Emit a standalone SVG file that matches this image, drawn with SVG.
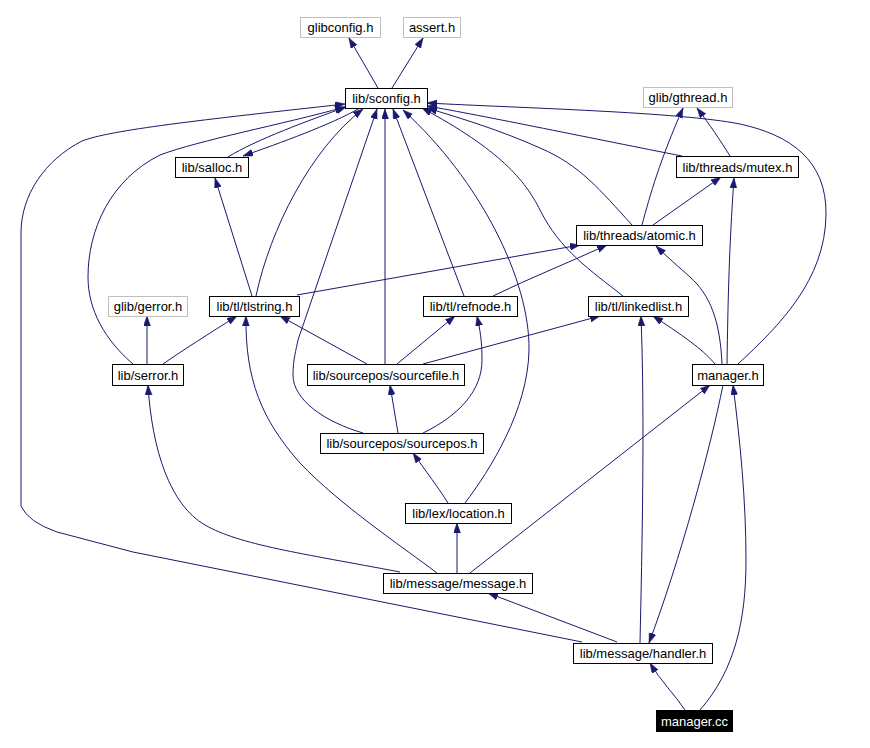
<svg xmlns="http://www.w3.org/2000/svg" width="870" height="748" viewBox="0 0 870 748">
<style>
.n rect{fill:#fff;stroke:#000;stroke-width:1}
.x rect{fill:#fff;stroke:#bfbfbf;stroke-width:1}
.n text,.x text{font-family:"Liberation Sans",Arial,sans-serif;font-size:13px;fill:#000;text-anchor:middle}
.r rect{fill:#000;stroke:#000}
.r text{font-family:"Liberation Sans",Arial,sans-serif;font-size:13px;fill:#fff;text-anchor:middle}
#edges path{fill:none;stroke:#191970;stroke-width:1;marker-end:url(#ah)}
</style>
<defs>
<marker id="ah" markerUnits="userSpaceOnUse" markerWidth="11" markerHeight="8" refX="10" refY="3.5" orient="auto">
<path d="M0,0 L10,3.5 L0,7 z" fill="#191970" stroke="#191970" stroke-width="0.5"/>
</marker>
</defs>
<rect width="870" height="748" fill="#fff"/>
<g id="edges">
<path d="M378,88 L349,38"/>
<path d="M392,88 L423,38"/>
<path d="M228,157 C255,140 310,120 346,107"/>
<path d="M360,108 C330,125 280,143 243,156"/>
<path d="M256,296 C270,230 310,150 363,109"/>
<path d="M252,296 L215,178"/>
<path d="M133,364 C105,340 88,310 88,277 C88,230 110,180 160,155 C200,140 280,125 345,107"/>
<path d="M582,642 L133,552 L57,532 Q28,522 21,506 L21,233 C21,195 45,160 82,141 C110,130 200,120 345,104"/>
<path d="M385,364 L385,109"/>
<path d="M363,433 C325,422 293,400 293,375 C293,360 296,350 298,340 L377,109"/>
<path d="M464,296 L393,109"/>
<path d="M465,503 C490,470 528,410 529,350 C530,280 480,180 403,110"/>
<path d="M623,296 C590,270 560,250 540,210 C525,180 500,150 422,108"/>
<path d="M632,225 C600,190 580,165 540,148 C500,130 460,118 427,108"/>
<path d="M682,156 C600,140 480,115 427,106"/>
<path d="M738,364 C780,325 825,280 826,215 C827,160 790,135 740,124 C680,112 520,108 427,103"/>
<path d="M642,225 C650,195 660,160 683,108"/>
<path d="M730,156 C720,140 710,125 697,108"/>
<path d="M653,225 L721,177"/>
<path d="M727,364 C728,300 729,250 734,178"/>
<path d="M722,364 C720,320 710,295 690,277 C680,268 665,255 656,246"/>
<path d="M715,364 C705,352 690,340 653,316"/>
<path d="M297,295 L580,245"/>
<path d="M493,296 C530,278 570,262 607,245"/>
<path d="M423,364 L600,316"/>
<path d="M640,643 C642,550 645,420 641,316"/>
<path d="M147,364 L147,316"/>
<path d="M163,364 C180,352 210,333 237,316"/>
<path d="M367,364 L280,316"/>
<path d="M397,364 L455,316"/>
<path d="M398,433 L390,385"/>
<path d="M423,433 C460,415 482,390 482,360 C482,340 480,330 477,316"/>
<path d="M448,503 C440,490 425,470 413,453"/>
<path d="M457,573 L457,523"/>
<path d="M470,573 L710,385"/>
<path d="M400,572 C300,553 240,545 205,525 C170,505 152,450 148,385"/>
<path d="M437,573 C400,545 340,505 300,463 C262,420 245,380 246,316"/>
<path d="M617,642 L488,593"/>
<path d="M723,385 C710,450 680,560 649,643"/>
<path d="M685,710 C675,695 660,680 650,663"/>
<path d="M700,710 C735,670 746,620 746,560 C746,500 740,440 733,385"/>
</g>
<g id="glibconfig" class="x"><rect x="300.5" y="17.5" width="80" height="20"/><text x="340.5" y="32">glibconfig.h</text></g>
<g id="assert" class="x"><rect x="403.5" y="17.5" width="57" height="20"/><text x="432" y="32">assert.h</text></g>
<g id="sconfig" class="n"><rect x="345.5" y="88.5" width="82" height="20"/><text x="386.5" y="103">lib/sconfig.h</text></g>
<g id="gthread" class="x"><rect x="643.5" y="87.5" width="89" height="20"/><text x="688" y="102">glib/gthread.h</text></g>
<g id="salloc" class="n"><rect x="175.5" y="157.5" width="73" height="20"/><text x="212" y="172">lib/salloc.h</text></g>
<g id="mutex" class="n"><rect x="676.5" y="156.5" width="122" height="21"/><text x="737.5" y="171.5">lib/threads/mutex.h</text></g>
<g id="atomic" class="n"><rect x="576.5" y="225.5" width="126" height="20"/><text x="639.5" y="240">lib/threads/atomic.h</text></g>
<g id="gerror" class="x"><rect x="108.5" y="296.5" width="79" height="20"/><text x="148" y="311">glib/gerror.h</text></g>
<g id="tlstring" class="n"><rect x="209.5" y="296.5" width="90" height="20"/><text x="254.5" y="311">lib/tl/tlstring.h</text></g>
<g id="refnode" class="n"><rect x="423.5" y="296.5" width="94" height="20"/><text x="470.5" y="311">lib/tl/refnode.h</text></g>
<g id="linkedlist" class="n"><rect x="588.5" y="296.5" width="100" height="20"/><text x="638.5" y="311">lib/tl/linkedlist.h</text></g>
<g id="serror" class="n"><rect x="112.5" y="364.5" width="71" height="21"/><text x="148" y="379.5">lib/serror.h</text></g>
<g id="sourcefile" class="n"><rect x="307.5" y="364.5" width="157" height="21"/><text x="386" y="379.5">lib/sourcepos/sourcefile.h</text></g>
<g id="managerh" class="n"><rect x="692.5" y="364.5" width="71" height="21"/><text x="728" y="379.5">manager.h</text></g>
<g id="sourcepos" class="n"><rect x="320.5" y="433.5" width="163" height="20"/><text x="402" y="448">lib/sourcepos/sourcepos.h</text></g>
<g id="location" class="n"><rect x="405.5" y="503.5" width="106" height="20"/><text x="458.5" y="518">lib/lex/location.h</text></g>
<g id="message" class="n"><rect x="383.5" y="573.5" width="149" height="20"/><text x="458" y="588">lib/message/message.h</text></g>
<g id="handler" class="n"><rect x="573.5" y="643.5" width="139" height="20"/><text x="643" y="658">lib/message/handler.h</text></g>
<g id="managercc" class="r"><rect x="656.5" y="710.5" width="76" height="21"/><text x="694.5" y="725.5">manager.cc</text></g>
</svg>
